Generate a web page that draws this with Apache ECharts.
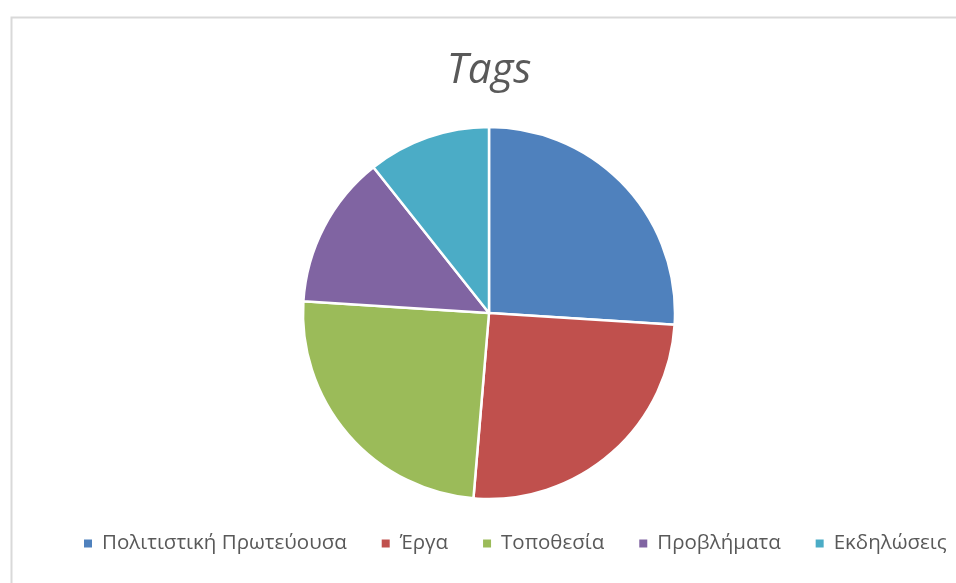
<!DOCTYPE html>
<html>
<head>
<meta charset="utf-8">
<script src="https://cdn.jsdelivr.net/npm/echarts@6/dist/echarts.min.js"></script>
<style>html,body{margin:0;padding:0;background:#fff}#c{width:956px;height:583px}</style>
</head>
<body>
<div id="c"></div>
<script>
const categories = ["Πολιτιστική Πρωτεύουσα", "Έργα", "Τοποθεσία", "Προβλήματα", "Εκδηλώσεις"];
const values = [39, 38, 37, 20, 16];
const colors = ["#4F81BD", "#C0504D", "#9BBB59", "#8064A2", "#4BACC6"];
const titleText = "Tags";

const chart = echarts.init(document.getElementById('c'));
chart.setOption({
  animation: false,
  backgroundColor: '#fff',
  color: colors,
  graphic: [{
    type: 'rect', left: 9, top: 15,
    shape: { width: 1100, height: 1000 },
    style: { fill: 'none', stroke: '#d9d9d9', lineWidth: 2 }
  }],
  title: {
    text: titleText, left: 484, top: 45, textAlign: 'center',
    textStyle: { fontFamily: 'Open Sans', fontStyle: 'italic', fontWeight: 'normal', fontSize: 42, color: '#595959' }
  },
  legend: {
    bottom: 24, left: 77,
    itemWidth: 10, itemHeight: 10, itemGap: 33, icon: 'rect',
    textStyle: { fontFamily: 'Open Sans', fontSize: 20.5, color: '#595959', padding: [0, 0, 0, 4] },
    data: categories
  },
  series: [{
    type: 'pie', center: [489, 313], radius: 186, startAngle: 90, clockwise: true,
    label: { show: false }, labelLine: { show: false },
    itemStyle: { borderColor: '#fff', borderWidth: 2.5 },
    emphasis: { disabled: true },
    data: categories.map((n, i) => ({ name: n, value: values[i] }))
  }]
});
</script>
</body>
</html>
